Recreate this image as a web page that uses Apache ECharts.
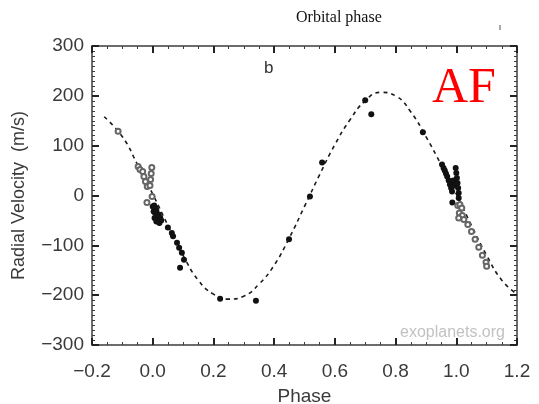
<!DOCTYPE html>
<html>
<head>
<meta charset="utf-8">
<script src="https://cdn.jsdelivr.net/npm/echarts@6/dist/echarts.min.js"></script>
<style>
html,body{margin:0;padding:0;background:#ffffff;}
#chart{width:539px;height:404px;}
</style>
</head>
<body>
<div id="chart"></div>
<script>
// ---- data ----
var xTicks = [-0.2, 0.0, 0.2, 0.4, 0.6, 0.8, 1.0, 1.2];
var yTicks = [-300, -200, -100, 0, 100, 200, 300];
var topTickLabels = ["\u22120.04", "\u22120.02", "0.00", "0.02", "0.04"];

// fitted orbit curve (phase, m/s)
var curvePhase = [-0.16,-0.10,-0.05,0.00,0.05,0.10,0.15,0.20,0.25,0.30,0.35,0.40,0.45,0.50,0.55,0.60,0.65,0.70,0.75,0.80,0.85,0.90,0.95,1.00,1.05,1.10,1.15,1.20];
var curveRV    = [158,118,62,3,-60,-120,-170,-198,-208,-202,-178,-140,-85,-22,42,102,152,190,207,200,168,118,62,3,-60,-120,-170,-198];

// filled points
var filledPhase = [0.000,0.005,0.010,0.003,0.008,0.012,0.015,0.006,0.018,0.020,0.022,0.012,0.025,0.028,
                   0.050,0.063,0.067,0.080,0.087,0.096,0.103,0.090,
                   0.222,0.340,0.449,0.518,0.558,0.700,0.720,0.890,
                   0.953,0.958,0.962,0.966,0.970,0.975,0.979,0.983,0.986,0.990,0.992,
                   0.998,1.000,1.002,1.004,1.006,1.008,1.008,0.987];
var filledRV    = [-22,-20,-25,-32,-35,-30,-40,-45,-48,-38,-55,-52,-45,-50,
                   -64,-75,-82,-95,-105,-115,-129,-145,
                   -207,-211,-88,-2,66,191,163,127,
                   62,55,50,44,38,30,22,15,8,30,20,
                   55,45,35,25,15,5,-5,-14];

// open points
var openPhase = [-0.114,-0.048,-0.042,
                 -0.033,-0.029,-0.024,-0.018,-0.003,-0.005,-0.007,-0.009,-0.002,-0.019,
                 1.005,1.012,1.018,1.010,1.020,1.008,1.025,
                 1.038,1.050,1.062,1.074,1.086,1.098,1.100];
var openRV    = [129,58,52,
                 48,38,28,18,56,44,32,20,-2,-14,
                 -20,-18,-25,-35,-40,-45,-48,
                 -58,-72,-88,-104,-120,-134,-142];

function pairs(a,b){var r=[];for(var i=0;i<a.length;i++)r.push([a[i],b[i]]);return r;}
function fmtNum(v,d){var s=Math.abs(v).toFixed(d);return (v<0?'\u2212':'')+s;}

var chart = echarts.init(document.getElementById('chart'), null, {renderer:'canvas'});
var axisCol = '#3c3c3c';
var labelFont = {fontFamily:'Liberation Sans, Arial, sans-serif', fontSize:19, color:'#3a3a3a'};

function tick(){return {show:true, inside:true, length:7, lineStyle:{color:'#222222', width:2}};}
function xMinor(){return {show:true, splitNumber:4, length:3, lineStyle:{color:axisCol, width:1}};}
function yMinor(){return {show:true, splitNumber:10, length:3, lineStyle:{color:axisCol, width:1}};}

var option = {
  animation:false,
  backgroundColor:'#ffffff',
  grid:{left:92, right:22, top:46, bottom:59, outerBoundsMode:'none', containLabel:false},
  xAxis:[{
    type:'value', min:-0.2, max:1.2, interval:0.2, position:'bottom',
    name:'Phase', nameLocation:'middle', nameGap:42,
    nameTextStyle:labelFont,
    axisLine:{show:true, onZero:false, lineStyle:{color:axisCol, width:1.5}},
    axisTick:tick(), minorTick:xMinor(), splitLine:{show:false}, minorSplitLine:{show:false},
    axisLabel:Object.assign({margin:17, formatter:function(v){return fmtNum(v,1);}}, labelFont)
  },{
    type:'value', min:-0.2, max:1.2, interval:0.2, position:'top',
    axisLine:{show:true, onZero:false, lineStyle:{color:axisCol, width:1.5}},
    axisTick:tick(), minorTick:xMinor(), splitLine:{show:false},
    axisLabel:{show:false}
  }],
  yAxis:[{
    type:'value', min:-300, max:300, interval:100, position:'left',
    name:'Radial Velocity  (m/s)', nameLocation:'middle', nameGap:64, nameRotate:90,
    nameTextStyle:Object.assign({}, labelFont, {fontSize:18}),
    axisLine:{show:true, onZero:false, lineStyle:{color:axisCol, width:1.5}},
    axisTick:tick(), minorTick:yMinor(), splitLine:{show:false},
    axisLabel:Object.assign({margin:8, formatter:function(v){return fmtNum(v,0);}}, labelFont)
  },{
    type:'value', min:-300, max:300, interval:100, position:'right',
    axisLine:{show:true, onZero:false, lineStyle:{color:axisCol, width:1.5}},
    axisTick:tick(), minorTick:yMinor(), splitLine:{show:false},
    axisLabel:{show:false}
  }],
  series:[{
    type:'line', data:pairs(curvePhase,curveRV), smooth:0.5, symbol:'none',
    lineStyle:{color:'#1a1a1a', width:1.6, type:[4,4]}, z:2
  },{
    type:'scatter', data:pairs(filledPhase,filledRV), symbol:'circle', symbolSize:6,
    itemStyle:{color:'#111111', opacity:1}, z:3
  },{
    type:'scatter', data:pairs(openPhase,openRV), symbol:'emptyCircle', symbolSize:5,
    itemStyle:{color:'#666666', borderColor:'#666666', borderWidth:1, opacity:1}, z:3
  }],
  graphic:[
    {type:'text', x:296, y:10, style:{text:'Orbital phase', font:'16px "Liberation Serif", "Times New Roman", serif', fill:'#111'}},
    {type:'text', x:145, y:-12, style:{text:topTickLabels[0], font:'16px "Liberation Serif", serif', fill:'#555', align:'center'}},
    {type:'text', x:240, y:-12, style:{text:topTickLabels[1], font:'16px "Liberation Serif", serif', fill:'#555', align:'center'}},
    {type:'text', x:326, y:-12, style:{text:topTickLabels[2], font:'16px "Liberation Serif", serif', fill:'#555', align:'center'}},
    {type:'text', x:420, y:-12, style:{text:topTickLabels[3], font:'16px "Liberation Serif", serif', fill:'#555', align:'center'}},
    {type:'text', x:515, y:-12, style:{text:topTickLabels[4], font:'16px "Liberation Serif", serif', fill:'#555', align:'center'}},
    {type:'line', shape:{x1:500, y1:25, x2:500, y2:30}, style:{stroke:'#555', lineWidth:1}},
    {type:'text', x:264, y:60, style:{text:'b', font:'17px "Liberation Sans", Arial, sans-serif', fill:'#333'}},
    {type:'text', x:432, y:64, style:{text:'AF', font:'50px "Liberation Serif", "Times New Roman", serif', fill:'#ff0000'}},
    {type:'text', x:400, y:325, style:{text:'exoplanets.org', font:'16px "Liberation Sans", Arial, sans-serif', fill:'#c2c2c2'}}
  ]
};
chart.setOption(option);
</script>
</body>
</html>
